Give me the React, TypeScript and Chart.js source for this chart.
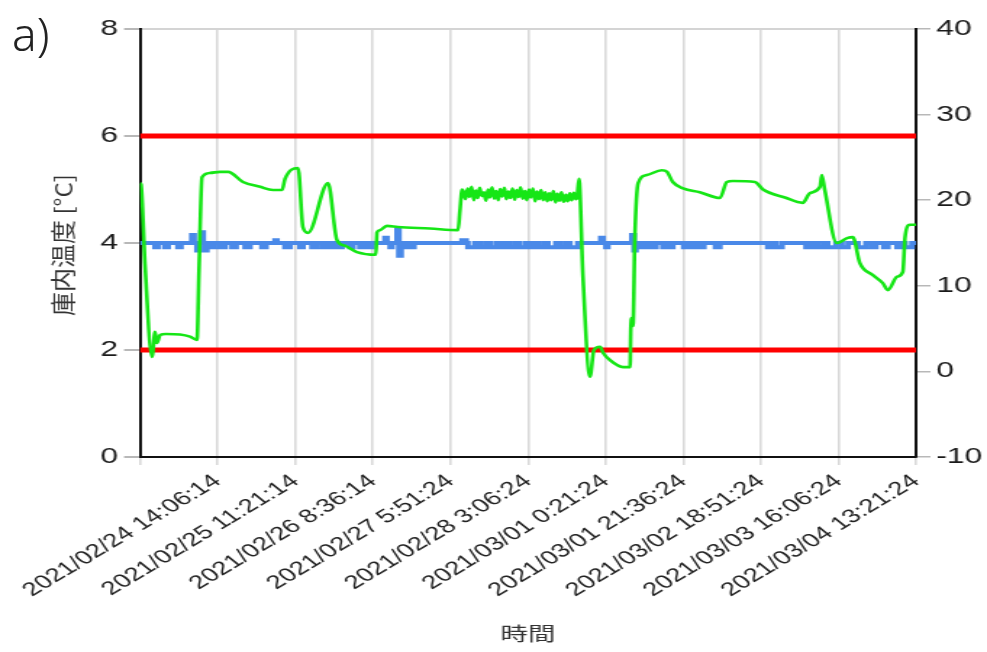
import React, { useEffect, useRef } from 'react';
import { Chart, registerables } from 'chart.js';

Chart.register(...registerables);

// ---------- data ----------
const xTickLabels = [
  '',
  '2021/02/24 14:06:14',
  '2021/02/25 11:21:14',
  '2021/02/26 8:36:14',
  '2021/02/27 5:51:24',
  '2021/02/28 3:06:24',
  '2021/03/01 0:21:24',
  '2021/03/01 21:36:24',
  '2021/03/02 18:51:24',
  '2021/03/03 16:06:24',
  '2021/03/04 13:21:24',
];
// hours elapsed at each category tick
const tickHours = [0, 21.25, 42.5, 63.75, 85, 106.25, 127.5, 148.75, 170, 191.25, 212.5];

const leftTicks = [0, 2, 4, 6, 8];
const rightTicks = [-10, 0, 10, 20, 30, 40];

const upperLimit = 6;
const lowerLimit = 2;

// green: measured inside temperature (hours, °C)
const greenTime = [
  0, 0.27, 1.37, 3.29, 4.11, 4.65, 5.48, 7.12, 10.95, 13.69, 15.61, 16.16, 16.98, 19.17, 21.9, 24.1,
  28.2, 32.9, 36.4, 38.9, 39.7, 43.3, 44.6, 46.0, 51.5, 53.9, 56.1, 59.4, 64.6, 64.9, 65.7, 67.6,
  70.6, 79.4, 87.1, 87.6, 88.2,
  88.6, 89.1, 89.7, 90.2, 90.8, 91.4, 91.9, 92.5, 93.0, 93.6, 94.2, 94.7, 95.3, 95.8, 96.4, 97.0,
  97.5, 98.1, 98.6, 99.2, 99.8, 100.3, 100.9, 101.4, 102.0, 102.6, 103.1, 103.7, 104.2, 104.8,
  105.4, 105.9, 106.5, 107.0, 107.6, 108.2, 108.7, 109.3, 109.8, 110.4, 111.0, 111.5, 112.1,
  112.6, 113.2, 113.8, 114.3, 114.9, 115.4, 116.0, 116.6, 117.1, 117.7, 118.2, 118.8, 119.3,
  119.7, 120.2, 121.3, 123.2, 124.3, 126.0, 126.8, 128.7, 132.3, 134.2, 134.4, 134.7, 135.0,
  135.5, 136.4, 138.8, 142.9, 144.3, 145.9, 148.7, 153.3, 158.8, 160.7, 162.4, 168.4, 170.6,
  176.6, 181.5, 183.4, 186.2, 186.7, 187.5, 190.8, 193.6, 195.2, 197.1, 200.7, 203.4, 204.8,
  207.3, 208.9, 209.5, 210.8, 212.5,
];
const greenTemp = [
  5.12, 5.1, 3.6, 1.87, 2.34, 2.13, 2.28, 2.3, 2.29, 2.25, 2.19, 3.5, 5.23, 5.31, 5.33, 5.33,
  5.14, 5.05, 4.99, 4.99, 5.2, 5.4, 4.3, 4.19, 5.12, 4.06, 3.95, 3.83, 3.78, 4.2, 4.24, 4.32,
  4.3, 4.27, 4.24, 4.6, 5.0,
  4.95, 4.82, 5.02, 4.86, 5.05, 4.8, 4.98, 4.84, 5.03, 4.88, 4.95, 4.79, 5.0, 4.85, 5.04, 4.83,
  4.97, 4.8, 5.01, 4.87, 5.03, 4.82, 4.96, 4.84, 5.02, 4.81, 4.99, 4.86, 5.04, 4.83,
  4.97, 4.8, 5.0, 4.85, 5.02, 4.78, 4.96, 4.82, 4.99, 4.8, 4.95, 4.78, 4.93,
  4.8, 4.97, 4.76, 4.92, 4.79, 4.95, 4.77, 4.9, 4.78, 4.93, 4.8, 4.94, 4.82,
  4.86, 5.2, 3.37, 1.5, 2.0, 2.06, 1.95, 1.81, 1.68, 1.68, 2.4, 2.6, 2.45,
  4.1, 5.12, 5.27, 5.36, 5.33, 5.14, 5.02, 4.95, 4.84, 5.14, 5.16, 5.14, 5.0,
  4.85, 4.75, 4.93, 5.05, 5.27, 5.0, 4.0, 4.09, 4.11, 3.63, 3.4, 3.25, 3.12,
  3.37, 3.46, 4.11, 4.34, 4.34,
];

// blue: controlled value, base level with short fluctuations (hours)
const blueBase = 4.0;
const blipStart = [
  4.1, 6.8, 10.4, 14.2, 15.6, 16.7, 17.8, 19.4, 21.9, 25.2, 28.8, 33.4, 37.0, 39.7, 43.8, 47.1,
  49.8, 52.0, 54.2, 57.5, 60.2, 62.4, 67.1, 68.5, 70.4, 70.9, 72.6, 74.5, 88.2, 89.8, 93.1, 95.8,
  98.6, 101.3, 104.0, 106.8, 109.0, 111.7, 115.0, 117.7, 126.2, 127.6, 134.7, 135.3, 136.4, 138.3,
  140.2, 143.2, 144.6, 148.9, 150.6, 153.3, 157.6, 171.9, 174.1, 182.4, 183.8, 185.6, 188.3, 192.2,
  196.6, 200.4, 203.7, 207.3, 209.5,
];
const blipEnd = [
  4.9, 7.7, 11.2, 14.8, 16.2, 17.3, 18.3, 20.3, 23.3, 26.3, 30.1, 34.5, 37.5, 41.1, 44.6, 48.2,
  50.7, 52.8, 55.3, 58.3, 61.3, 63.6, 67.6, 69.0, 70.9, 71.5, 73.4, 75.0, 89.3, 91.7, 94.7, 97.5,
  99.9, 102.9, 105.7, 108.2, 110.6, 113.9, 116.6, 119.9, 126.8, 128.1, 135.3, 135.8, 137.2, 139.1,
  141.3, 144.0, 145.9, 150.0, 152.0, 154.4, 158.8, 173.0, 175.8, 183.2, 184.6, 187.2, 190.6, 193.9,
  198.8, 201.5, 204.8, 208.1, 211.4,
];
const blipValue = [
  3.92, 3.92, 3.92, 4.15, 3.86, 4.2, 3.86, 3.92, 3.92, 3.92, 3.92, 3.92, 4.05, 3.92, 3.92, 3.92,
  3.92, 3.92, 3.92, 3.92, 3.92, 3.92, 4.1, 3.92, 4.25, 3.76, 3.92, 3.92, 4.05, 3.92, 3.92, 3.92,
  3.92, 3.92, 3.92, 3.92, 3.92, 3.92, 3.92, 3.92, 4.1, 3.92, 4.15, 3.86, 3.92, 3.92,
  3.92, 3.92, 3.92, 3.92, 3.92, 3.92, 3.92, 3.92, 3.92, 3.92, 3.92, 3.92, 3.92, 3.92,
  3.92, 3.92, 3.92, 3.92, 3.92,
];

const yTitle = '庫内温度 [°C]';
const xTitle = '時間';
const panelLabel = 'a)';

// ---------- layout ----------
const CANVAS_W = 681;
const CANVAS_H = 652;
const STRETCH = 987 / CANVAS_W;

const titlesPlugin = {
  id: 'titles',
  afterDraw(chart: any) {
    const { ctx, chartArea } = chart;
    ctx.save();
    ctx.fillStyle = '#333';
    ctx.textAlign = 'center';
    ctx.textBaseline = 'middle';
    ctx.font = '24px "Noto Sans CJK JP"';
    ctx.translate(64 / STRETCH, (chartArea.top + chartArea.bottom) / 2 + 2);
    ctx.scale(1 / STRETCH, 1);
    ctx.rotate(-Math.PI / 2);
    ctx.fillText(yTitle, 0, 0);
    ctx.restore();
    ctx.save();
    ctx.fillStyle = '#333';
    ctx.textAlign = 'center';
    ctx.textBaseline = 'middle';
    ctx.font = '19px "Noto Sans CJK JP"';
    ctx.fillText(xTitle, (chartArea.left + chartArea.right) / 2, 634);
    ctx.restore();
  },
};

export default function App() {
  const ref = useRef<HTMLCanvasElement>(null);

  useEffect(() => {
    if (!ref.current) return;
    const green = greenTime.map((t, i) => ({ x: t, y: greenTemp[i] }));
    const xMin = tickHours[0];
    const xMax = tickHours[tickHours.length - 1];
    const blue: { x: number; y: number }[] = [{ x: xMin, y: blueBase }];
    blipStart.forEach((s, i) => {
      blue.push({ x: s, y: blipValue[i] });
      blue.push({ x: blipEnd[i], y: blueBase });
    });
    blue.push({ x: xMax, y: blueBase });

    const chart = new Chart(ref.current, {
      type: 'line',
      data: {
        datasets: [
          {
            label: 'temp',
            data: green,
            borderColor: '#16e616',
            borderWidth: 2.6,
            pointRadius: 0,
            cubicInterpolationMode: 'monotone',
            yAxisID: 'y',
            order: 0,
          },
          {
            label: 'set',
            data: blue,
            borderColor: '#4a89e8',
            borderWidth: 4,
            pointRadius: 0,
            stepped: 'before',
            yAxisID: 'y',
            order: 1,
          },
          {
            label: 'upper',
            data: [{ x: xMin, y: upperLimit }, { x: xMax, y: upperLimit }],
            borderColor: '#ff0000',
            borderWidth: 5,
            pointRadius: 0,
            yAxisID: 'y',
            order: 2,
          },
          {
            label: 'lower',
            data: [{ x: xMin, y: lowerLimit }, { x: xMax, y: lowerLimit }],
            borderColor: '#ff0000',
            borderWidth: 5,
            pointRadius: 0,
            yAxisID: 'y',
            order: 2,
          },
        ],
      },
      options: {
        responsive: false,
        animation: false,
        events: [],
        layout: { padding: { top: 29, left: 0, right: 0, bottom: 0 } },
        plugins: { legend: { display: false }, tooltip: { enabled: false } },
        scales: {
          x: {
            type: 'linear',
            min: xMin,
            max: xMax,
            afterBuildTicks: (scale: any) => {
              scale.ticks = tickHours.map((v) => ({ value: v }));
            },
            afterFit: (scale: any) => {
              scale.height = CANVAS_H - 457;
              scale.paddingLeft = 0;
              scale.paddingRight = 0;
            },
            ticks: {
              autoSkip: false,
              minRotation: 41,
              maxRotation: 41,
              padding: 5,
              color: '#222',
              font: { family: '"Liberation Sans", Arial, sans-serif', size: 19 },
              callback: (v: any) => {
                const i = tickHours.findIndex((h) => Math.abs(h - Number(v)) < 0.01);
                return i >= 0 ? xTickLabels[i] : '';
              },
            },
            grid: {
              color: '#d9d9d9',
              lineWidth: 1.6,
              tickLength: 8,
              tickColor: '#d9d9d9',
            },
            border: { color: '#111', width: 2 },
          },
          y: {
            position: 'left',
            min: 0,
            max: 8,
            afterBuildTicks: (scale: any) => {
              scale.ticks = leftTicks.map((v) => ({ value: v }));
            },
            afterFit: (scale: any) => {
              scale.width = 140 / STRETCH;
            },
            ticks: {
              padding: 4,
              color: '#1a1a1a',
              font: { family: '"Liberation Sans", Arial, sans-serif', size: 22 },
            },
            grid: {
              color: (c: any) => (c.tick && c.tick.value === 8 ? '#d4d4d4' : 'rgba(0,0,0,0)'),
              lineWidth: 2,
              tickLength: 11,
              tickColor: '#b8b8b8',
            },
            border: { color: '#111', width: 2 },
          },
          y2: {
            position: 'right',
            min: -10,
            max: 40,
            afterBuildTicks: (scale: any) => {
              scale.ticks = rightTicks.map((v) => ({ value: v }));
            },
            afterFit: (scale: any) => {
              scale.width = (987 - 916) / STRETCH;
            },
            ticks: {
              padding: 4,
              color: '#1a1a1a',
              font: { family: '"Liberation Sans", Arial, sans-serif', size: 22 },
            },
            grid: {
              drawOnChartArea: false,
              tickLength: 10,
              tickColor: '#b8b8b8',
              lineWidth: 1.5,
            },
            border: { color: '#111', width: 2 },
          },
        },
      },
      plugins: [titlesPlugin],
    } as any);
    return () => chart.destroy();
  }, []);

  return (
    <div style={{ position: 'fixed', left: 0, top: 0, width: 987, height: 652, background: '#fff', overflow: 'hidden' }}>
      <div
        style={{
          position: 'absolute',
          left: 0,
          top: 0,
          width: CANVAS_W,
          height: CANVAS_H,
          transform: `scaleX(${STRETCH})`,
          transformOrigin: '0 0',
        }}
      >
        <canvas ref={ref} width={CANVAS_W} height={CANVAS_H} style={{ display: 'block' }} />
      </div>
      <div
        style={{
          position: 'absolute',
          left: 12,
          top: 11,
          fontFamily: '"Noto Sans", sans-serif',
          fontWeight: 300,
          fontSize: 46,
          lineHeight: '44px',
          color: '#222',
        }}
      >
        {panelLabel}
      </div>
    </div>
  );
}
